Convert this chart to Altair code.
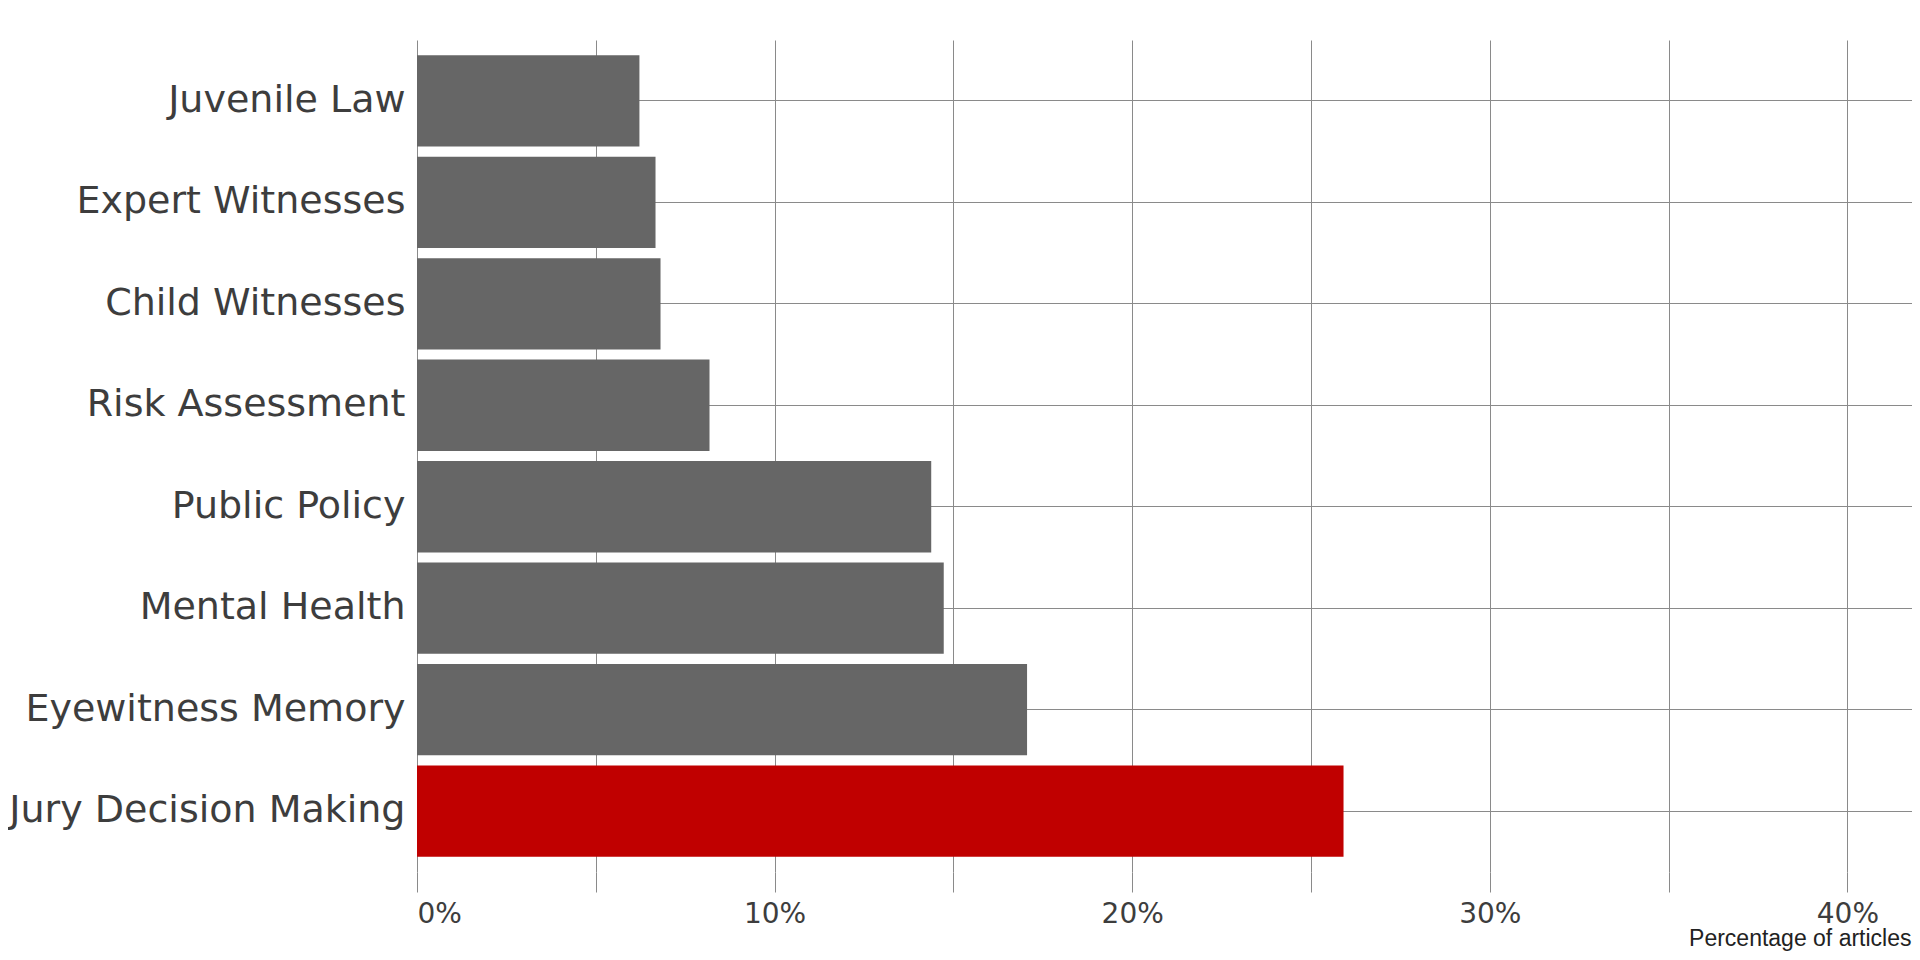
import altair as alt
import pandas as pd

categories = ["Juvenile Law", "Expert Witnesses", "Child Witnesses", "Risk Assessment",
              "Public Policy", "Mental Health", "Eyewitness Memory", "Jury Decision Making"]
shares = [0.0622, 0.0667, 0.0681, 0.0818, 0.1438, 0.1473, 0.1706, 0.2591]
highlight = "Jury Decision Making"
x_ticks = [0.0, 0.05, 0.10, 0.15, 0.20, 0.25, 0.30, 0.35, 0.40]

df = pd.DataFrame({"topic": categories, "share": shares})

grid_color = "#8a8a8a"
text_color = "#3d3d3d"

chart = alt.Chart(df).mark_bar().encode(
    x=alt.X(
        "share:Q",
        scale=alt.Scale(domain=[0, 0.41807], nice=False, zero=True),
        axis=alt.Axis(
            values=x_ticks,
            labelExpr="round(datum.value*100) % 10 == 0 ? format(datum.value, '.0%') : ''",
            labelOverlap=False,
            grid=True, gridColor=grid_color, gridWidth=1,
            ticks=True, tickSize=20, tickColor=grid_color, tickWidth=1,
            domain=False,
            labelFont="DejaVu Sans", labelFontSize=28, labelColor=text_color, labelPadding=8,
            title="Percentage of articles",
            titleFont="Liberation Sans", titleFontSize=23, titleFontWeight="normal",
            titleColor="#222222", titleAnchor="end", titleAlign="right",
            titleBaseline="alphabetic", titleX=1494, titleY=73,
        ),
    ),
    y=alt.Y(
        "topic:N",
        sort=categories,
        scale=alt.Scale(paddingInner=0.1, paddingOuter=0.15),
        axis=alt.Axis(
            title=None,
            grid=True, gridColor=grid_color, gridWidth=1, bandPosition=0.5,
            ticks=False, domain=False,
            labelFont="DejaVu Sans", labelFontSize=38, labelColor=text_color,
            labelPadding=12, labelLimit=0,
        ),
    ),
    color=alt.condition(alt.datum.topic == highlight, alt.value("#C00000"), alt.value("#666666")),
).properties(
    width=1495,
    height=832,
    autosize=alt.AutoSizeParams(type="none"),
    padding={"left": 409, "top": 32, "right": 0, "bottom": 80},
).configure_view(stroke=None)

chart.save("out.html", embed_options={"renderer": "svg", "actions": False})
